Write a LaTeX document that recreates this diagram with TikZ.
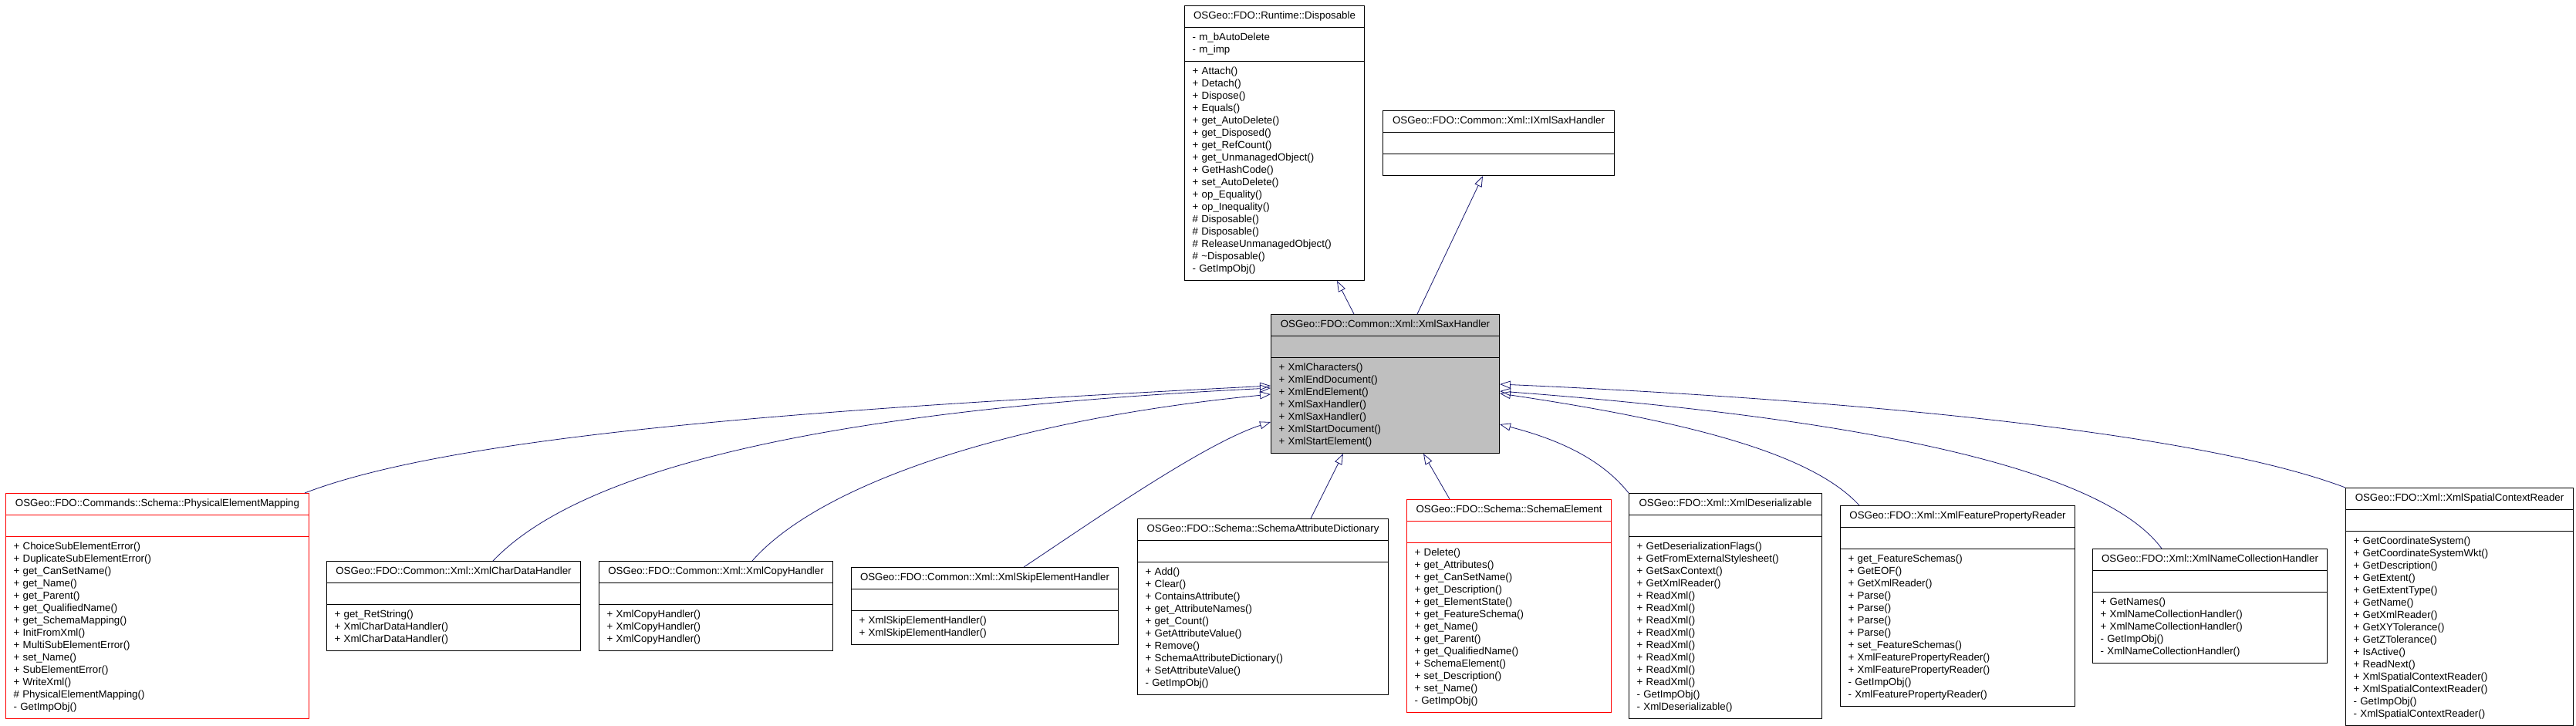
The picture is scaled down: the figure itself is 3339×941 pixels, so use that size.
\documentclass[tikz,border=0pt]{standalone}
\usepackage{fontspec}
\setmainfont{Liberation Sans}
\usepackage{tikz}
\usetikzlibrary{shapes.multipart, arrows.meta}
\definecolor{colorHerencia}{HTML}{191970}
\definecolor{grisBase}{HTML}{BFBFBF}
\definecolor{rojoClase}{HTML}{FF0000}
\setlength{\parindent}{0pt}
\setlength{\parskip}{0pt}
\newcommand{\fuenteUml}{\fontsize{13.3}{16}\selectfont}
\newcommand{\tit}[1]{\centering\strut\mbox{#1}\par}
\newcommand{\mem}[1]{\strut#1\par}

\begin{document}
\begin{tikzpicture}[x=1pt, y=-1pt,
        clase/.style={rectangle split, rectangle split parts=3, draw=black, line width=1pt,
            fill=white, text width=#1, align=left, inner xsep=10pt, inner ysep=5.5pt,
            anchor=north west, font=\fuenteUml},
        herencia/.style={-{Triangle[open, length=14pt, width=10pt]}, colorHerencia, line width=0.8pt}
    ]
        \useasboundingbox[fill=white] (0,0) rectangle (3339,941);
        % bases
        \node[clase=213pt] (disp) at (1535,7) {\tit{OSGeo::FDO::Runtime::Disposable}
            \nodepart{two}\mem{- m\_bAutoDelete}\mem{- m\_imp}
            \nodepart{three}\mem{+ Attach()}\mem{+ Detach()}\mem{+ Dispose()}\mem{+ Equals()}
            \mem{+ get\_AutoDelete()}\mem{+ get\_Disposed()}\mem{+ get\_RefCount()}
            \mem{+ get\_UnmanagedObject()}\mem{+ GetHashCode()}\mem{+ set\_AutoDelete()}
            \mem{+ op\_Equality()}\mem{+ op\_Inequality()}\mem{\# Disposable()}\mem{\# Disposable()}
            \mem{\# ReleaseUnmanagedObject()}\mem{\# \textasciitilde Disposable()}\mem{- GetImpObj()}};
        \node[clase=280pt] (ixml) at (1792,143) {\tit{OSGeo::FDO::Common::Xml::IXmlSaxHandler}
            \nodepart{two}\mem{}\nodepart{three}\mem{}};
        \node[clase=276pt, fill=grisBase] (sax) at (1647,407) {\tit{OSGeo::FDO::Common::Xml::XmlSaxHandler}
            \nodepart{two}\mem{}
            \nodepart{three}\mem{+ XmlCharacters()}\mem{+ XmlEndDocument()}\mem{+ XmlEndElement()}
            \mem{+ XmlSaxHandler()}\mem{+ XmlSaxHandler()}\mem{+ XmlStartDocument()}\mem{+ XmlStartElement()}};
        % derived
        \node[clase=373pt, draw=rojoClase] (phys) at (7,639) {\tit{OSGeo::FDO::Commands::Schema::PhysicalElementMapping}
            \nodepart{two}\mem{}
            \nodepart{three}\mem{+ ChoiceSubElementError()}\mem{+ DuplicateSubElementError()}
            \mem{+ get\_CanSetName()}\mem{+ get\_Name()}\mem{+ get\_Parent()}\mem{+ get\_QualifiedName()}
            \mem{+ get\_SchemaMapping()}\mem{+ InitFromXml()}\mem{+ MultiSubElementError()}
            \mem{+ set\_Name()}\mem{+ SubElementError()}\mem{+ WriteXml()}
            \mem{\# PhysicalElementMapping()}\mem{- GetImpObj()}};
        \node[clase=309pt] (chard) at (423,727) {\tit{OSGeo::FDO::Common::Xml::XmlCharDataHandler}
            \nodepart{two}\mem{}
            \nodepart{three}\mem{+ get\_RetString()}\mem{+ XmlCharDataHandler()}\mem{+ XmlCharDataHandler()}};
        \node[clase=283pt] (copy) at (776,727) {\tit{OSGeo::FDO::Common::Xml::XmlCopyHandler}
            \nodepart{two}\mem{}
            \nodepart{three}\mem{+ XmlCopyHandler()}\mem{+ XmlCopyHandler()}\mem{+ XmlCopyHandler()}};
        \node[clase=326pt] (skip) at (1103,735) {\tit{OSGeo::FDO::Common::Xml::XmlSkipElementHandler}
            \nodepart{two}\mem{}
            \nodepart{three}\mem{+ XmlSkipElementHandler()}\mem{+ XmlSkipElementHandler()}};
        \node[clase=305pt] (dict) at (1474,672) {\tit{OSGeo::FDO::Schema::SchemaAttributeDictionary}
            \nodepart{two}\mem{}
            \nodepart{three}\mem{+ Add()}\mem{+ Clear()}\mem{+ ContainsAttribute()}\mem{+ get\_AttributeNames()}
            \mem{+ get\_Count()}\mem{+ GetAttributeValue()}\mem{+ Remove()}
            \mem{+ SchemaAttributeDictionary()}\mem{+ SetAttributeValue()}\mem{- GetImpObj()}};
        \node[clase=245pt, draw=rojoClase] (schel) at (1823,647) {\tit{OSGeo::FDO::Schema::SchemaElement}
            \nodepart{two}\mem{}
            \nodepart{three}\mem{+ Delete()}\mem{+ get\_Attributes()}\mem{+ get\_CanSetName()}
            \mem{+ get\_Description()}\mem{+ get\_ElementState()}\mem{+ get\_FeatureSchema()}
            \mem{+ get\_Name()}\mem{+ get\_Parent()}\mem{+ get\_QualifiedName()}\mem{+ SchemaElement()}
            \mem{+ set\_Description()}\mem{+ set\_Name()}\mem{- GetImpObj()}};
        \node[clase=230pt] (deser) at (2111,639) {\tit{OSGeo::FDO::Xml::XmlDeserializable}
            \nodepart{two}\mem{}
            \nodepart{three}\mem{+ GetDeserializationFlags()}\mem{+ GetFromExternalStylesheet()}
            \mem{+ GetSaxContext()}\mem{+ GetXmlReader()}\mem{+ ReadXml()}\mem{+ ReadXml()}\mem{+ ReadXml()}
            \mem{+ ReadXml()}\mem{+ ReadXml()}\mem{+ ReadXml()}\mem{+ ReadXml()}\mem{+ ReadXml()}
            \mem{- GetImpObj()}\mem{- XmlDeserializable()}};
        \node[clase=284pt] (featr) at (2385,655) {\tit{OSGeo::FDO::Xml::XmlFeaturePropertyReader}
            \nodepart{two}\mem{}
            \nodepart{three}\mem{+ get\_FeatureSchemas()}\mem{+ GetEOF()}\mem{+ GetXmlReader()}
            \mem{+ Parse()}\mem{+ Parse()}\mem{+ Parse()}\mem{+ Parse()}\mem{+ set\_FeatureSchemas()}
            \mem{+ XmlFeaturePropertyReader()}\mem{+ XmlFeaturePropertyReader()}\mem{- GetImpObj()}
            \mem{- XmlFeaturePropertyReader()}};
        \node[clase=284pt] (namec) at (2712,711) {\tit{OSGeo::FDO::Xml::XmlNameCollectionHandler}
            \nodepart{two}\mem{}
            \nodepart{three}\mem{+ GetNames()}\mem{+ XmlNameCollectionHandler()}\mem{+ XmlNameCollectionHandler()}
            \mem{- GetImpObj()}\mem{- XmlNameCollectionHandler()}};
        \node[clase=275pt] (spat) at (3040,632) {\tit{OSGeo::FDO::Xml::XmlSpatialContextReader}
            \nodepart{two}\mem{}
            \nodepart{three}\mem{+ GetCoordinateSystem()}\mem{+ GetCoordinateSystemWkt()}\mem{+ GetDescription()}
            \mem{+ GetExtent()}\mem{+ GetExtentType()}\mem{+ GetName()}\mem{+ GetXmlReader()}
            \mem{+ GetXYTolerance()}\mem{+ GetZTolerance()}\mem{+ IsActive()}\mem{+ ReadNext()}
            \mem{+ XmlSpatialContextReader()}\mem{+ XmlSpatialContextReader()}\mem{- GetImpObj()}
            \mem{- XmlSpatialContextReader()}};
        % inheritance
        \draw[herencia] ([xshift=108pt]sax.north west) -- ([xshift=198pt]disp.south west);
        \draw[herencia] ([xshift=190pt]sax.north west) -- ([xshift=130pt]ixml.south west);
        \draw[herencia] ([xshift=-6pt]phys.north east) .. controls (600,560) and (1100,528) .. ([yshift=-93pt]sax.north west);
        \draw[herencia] ([xshift=216pt]chard.north west) .. controls (760,600) and (1100,530) .. ([yshift=-96pt]sax.north west);
        \draw[herencia] ([xshift=199pt]copy.north west) .. controls (1060,630) and (1300,545) .. ([yshift=-104pt]sax.north west);
        \draw[herencia] ([xshift=224pt]skip.north west) .. controls (1410,680) and (1560,575) .. ([yshift=-140pt]sax.north west);
        \draw[herencia] ([xshift=225pt]dict.north west) -- ([xshift=94pt]sax.south west);
        \draw[herencia] ([xshift=56pt]schel.north west) -- ([xshift=198pt]sax.south west);
        \draw[herencia] (deser.north west) .. controls (2080,600) and (2030,572) .. ([yshift=-143pt]sax.north east);
        \draw[herencia] ([xshift=25pt]featr.north west) .. controls (2350,590) and (2200,548) .. ([yshift=-103pt]sax.north east);
        \draw[herencia] ([xshift=90pt]namec.north west) .. controls (2720,600) and (2380,540) .. ([yshift=-100pt]sax.north east);
        \draw[herencia] (spat.north west) .. controls (2850,560) and (2400,518) .. ([yshift=-91pt]sax.north east);
    \end{tikzpicture}
\end{document}
